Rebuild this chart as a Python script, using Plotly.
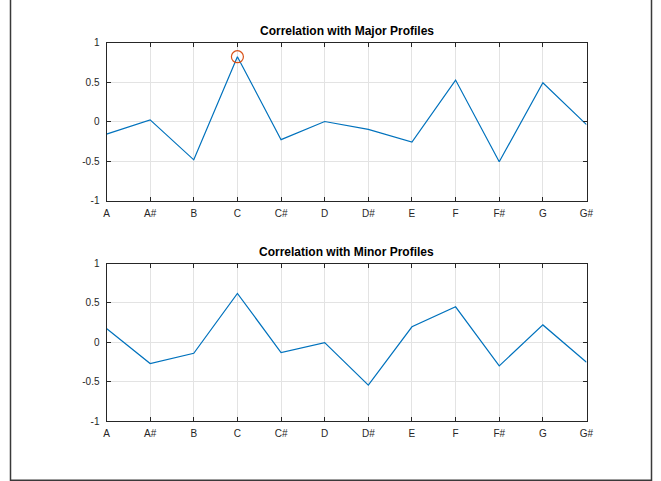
import plotly.graph_objects as go

notes = ["A", "A#", "B", "C", "C#", "D", "D#", "E", "F", "F#", "G", "G#"]
major_corr = [-0.16, 0.02, -0.485, 0.82, -0.23, 0.0, -0.10, -0.26, 0.525, -0.51, 0.49, -0.04]
minor_corr = [0.175, -0.27, -0.14, 0.62, -0.13, -0.005, -0.545, 0.196, 0.45, -0.30, 0.22, -0.254]
best_key = ["C"]
best_value = [0.82]
y_ticks = [-1, -0.5, 0, 0.5, 1]
y_tick_text = ["-1", "-0.5", "0", "0.5", "1"]
titles = ["Correlation with Major Profiles", "Correlation with Minor Profiles"]

W, H = 661, 481
FONT = "Liberation Sans, Arial, Helvetica, sans-serif"
LINE = "#0072BD"
AX = "#262626"

fig = go.Figure()
fig.add_trace(go.Scatter(x=notes, y=major_corr, mode="lines",
                         line=dict(color=LINE, width=1.2), xaxis="x", yaxis="y",
                         showlegend=False, hoverinfo="x+y"))
fig.add_trace(go.Scatter(x=best_key, y=best_value, mode="markers",
                         marker=dict(symbol="circle-open", size=12, color="#D95319",
                                     line=dict(width=1.2, color="#D95319")),
                         xaxis="x", yaxis="y", showlegend=False))
fig.add_trace(go.Scatter(x=notes, y=minor_corr, mode="lines",
                         line=dict(color=LINE, width=1.2), xaxis="x2", yaxis="y2",
                         showlegend=False, hoverinfo="x+y"))

xdom = [106.5 / W, 586.5 / W]
top_dom = [(H - 200.5) / H, (H - 42.5) / H]
bot_dom = [(H - 421) / H, (H - 263.5) / H]

def xax(anchor):
    return dict(domain=xdom, anchor=anchor, type="category", categoryorder="array",
                categoryarray=notes, range=[0, len(notes) - 1], automargin=False,
                showline=True, linecolor=AX, linewidth=1, mirror="ticks",
                ticks="inside", ticklen=4, tickcolor=AX, tickwidth=1,
                ticklabelstandoff=3,
                showgrid=True, gridcolor="#E3E3E3", gridwidth=1,
                tickfont=dict(family=FONT, size=10, color=AX), zeroline=False,
                fixedrange=True)

def yax(anchor, dom):
    return dict(domain=dom, anchor=anchor, range=[-1, 1], tickvals=y_ticks,
                ticktext=y_tick_text, automargin=False,
                showline=True, linecolor=AX, linewidth=1, mirror="ticks",
                ticks="inside", ticklen=4, tickcolor=AX, tickwidth=1,
                ticklabelstandoff=4,
                showgrid=True, gridcolor="#E3E3E3", gridwidth=1, zeroline=False,
                tickfont=dict(family=FONT, size=10, color=AX), fixedrange=True)

fig.update_layout(
    template="none",
    width=W, height=H,
    margin=dict(l=0, r=0, t=0, b=0, pad=0, autoexpand=False),
    paper_bgcolor="white", plot_bgcolor="white",
    xaxis=xax("y"), yaxis=yax("x", top_dom),
    xaxis2=xax("y2"), yaxis2=yax("x2", bot_dom),
    annotations=[
        dict(text="<b>" + titles[0] + "</b>", x=(xdom[0] + xdom[1]) / 2, y=(H - 31) / H,
             xref="paper", yref="paper", showarrow=False, xanchor="center", yanchor="middle",
             font=dict(family=FONT, size=12, color="black")),
        dict(text="<b>" + titles[1] + "</b>", x=(xdom[0] + xdom[1]) / 2, y=(H - 252) / H,
             xref="paper", yref="paper", showarrow=False, xanchor="center", yanchor="middle",
             font=dict(family=FONT, size=12, color="black")),
    ],
    shapes=[dict(type="rect", xref="paper", yref="paper",
                 x0=10.5 / W, x1=651.5 / W, y0=0.8 / H, y1=1.05,
                 line=dict(color="#3a3a3a", width=1.5), fillcolor="rgba(0,0,0,0)")],
)

fig.write_html("out.html", config={"displayModeBar": False},
               post_script="document.body.style.margin='0';document.body.style.overflow='hidden';")
